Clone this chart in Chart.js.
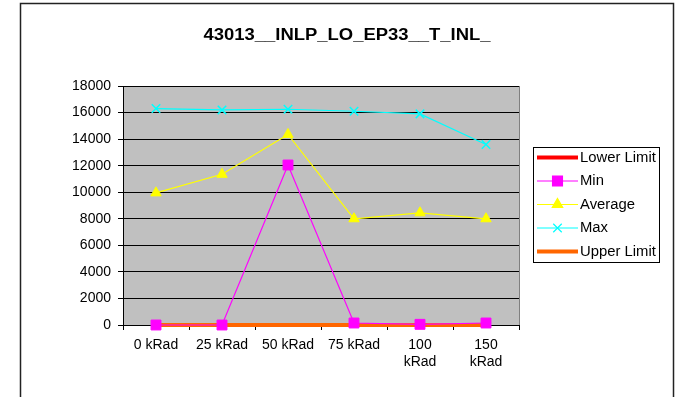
<!DOCTYPE html>
<html>
<head>
<meta charset="utf-8">
<script src="https://cdn.jsdelivr.net/npm/chart.js@4/dist/chart.umd.min.js"></script>
<style>
  html, body { margin: 0; padding: 0; background: #fff; }
  #wrap { width: 683px; height: 397px; }
</style>
</head>
<body>
<div id="wrap"><canvas id="chart" width="683" height="397"></canvas></div>
<script>
const chartTitle = "43013__INLP_LO_EP33__T_INL_";
const doses = ["0 kRad", "25 kRad", "50 kRad", "75 kRad", ["100", "kRad"], ["150", "kRad"]];
const lowerLimit = [0, 0, 0, 0, 0, 0];
const minVals = [0, 0, 12050, 150, 50, 150];
const avgVals = [9950, 11350, 14350, 8000, 8450, 8000];
const maxVals = [16300, 16200, 16250, 16100, 15900, 13600];
const upperLimit = [0, 0, 0, 0, 0, 0];
const yTicks = [0, 2000, 4000, 6000, 8000, 10000, 12000, 14000, 16000, 18000];

const FONT = "'Liberation Sans', Arial, sans-serif";

// gray plot background, frame, title and the line+marker legend
const excelLook = {
  id: "excelLook",
  beforeDraw(chart) {
    const { ctx, chartArea: a } = chart;
    ctx.save();
    ctx.fillStyle = "#c0c0c0";
    ctx.fillRect(a.left, a.top, a.right - a.left, a.bottom - a.top);
    ctx.restore();
  },
  beforeDatasetsDraw(chart) {
    const { ctx, chartArea: a } = chart;
    ctx.save();
    ctx.strokeStyle = "#808080";
    ctx.lineWidth = 1;
    ctx.beginPath();
    ctx.moveTo(a.right + 0.5, a.top);
    ctx.lineTo(a.right + 0.5, a.bottom);
    ctx.stroke();
    ctx.restore();
  },
  afterDraw(chart) {
    const ctx = chart.ctx;
    ctx.save();
    // outer frame
    ctx.strokeStyle = "#222";
    ctx.lineWidth = 1.5;
    ctx.strokeRect(20.5, 3.5, 653, 400);

    // title, slightly widened
    ctx.font = "bold 16px " + FONT;
    ctx.fillStyle = "#000";
    ctx.textBaseline = "middle";
    const w = ctx.measureText(chartTitle).width;
    const sx = 287 / w;
    ctx.save();
    ctx.translate(347 - 287 / 2, 36);
    ctx.scale(sx, 1);
    ctx.textAlign = "left";
    ctx.fillText(chartTitle, 0, 0);
    ctx.restore();

    // legend
    const lx = 533, ly = 147, lw = 126, lh = 115;
    ctx.fillStyle = "#fff";
    ctx.fillRect(lx, ly, lw, lh);
    ctx.strokeStyle = "#000";
    ctx.lineWidth = 1;
    ctx.strokeRect(lx + 0.5, ly + 0.5, lw, lh);
    ctx.font = "14px " + FONT;
    ctx.textAlign = "left";
    chart.data.datasets.forEach((ds, k) => {
      const y = 157.5 + k * 23.5;
      ctx.strokeStyle = ds.borderColor;
      ctx.lineWidth = ds.borderWidth;
      ctx.beginPath();
      ctx.moveTo(537, y);
      ctx.lineTo(578, y);
      ctx.stroke();
      if (ds.pointRadius > 0) {
        ctx.fillStyle = ds.pointBackgroundColor;
        ctx.strokeStyle = ds.pointBorderColor;
        Chart.helpers.drawPoint(ctx, {
          pointStyle: ds.pointStyle,
          radius: ds.pointRadius,
          rotation: 0,
          borderWidth: ds.pointBorderWidth
        }, 557.5, y);
      }
      ctx.fillStyle = "#000";
      ctx.save();
      ctx.translate(580, y);
      ctx.scale(1.06, 1);
      ctx.fillText(ds.label, 0, 0.5);
      ctx.restore();
    });
    ctx.restore();
  }
};

function series(label, data, color, width, style, radius, order) {
  return {
    label: label,
    data: data,
    borderColor: color,
    borderWidth: width,
    backgroundColor: color,
    pointStyle: style,
    pointRadius: radius,
    pointHoverRadius: radius,
    pointBackgroundColor: color,
    pointBorderColor: color,
    pointBorderWidth: style === "crossRot" ? 1.5 : 1,
    tension: 0,
    fill: false,
    clip: false,
    order: order
  };
}

new Chart(document.getElementById("chart"), {
  type: "line",
  data: {
    labels: doses,
    datasets: [
      series("Lower Limit", lowerLimit, "#ff0000", 4, false, 0, 4),
      series("Min", minVals, "#ff00ff", 1.2, "rect", 7, 0),
      series("Average", avgVals, "#ffff00", 1.2, "triangle", 6, 1),
      series("Max", maxVals, "#00ffff", 1.2, "crossRot", 6, 2),
      series("Upper Limit", upperLimit, "#ff6600", 4, false, 0, 3)
    ]
  },
  options: {
    responsive: false,
    animation: false,
    events: [],
    layout: { padding: { left: 20, right: 164, top: 86, bottom: 0 } },
    plugins: {
      legend: { display: false },
      title: { display: false },
      tooltip: { enabled: false }
    },
    scales: {
      x: {
        offset: true,
        border: { color: "#000", width: 1 },
        grid: { offset: true, drawOnChartArea: false, color: "#000", tickLength: 5 },
        ticks: { color: "#000", font: { family: FONT, size: 14 }, padding: 7, maxRotation: 0, autoSkip: false },
        afterFit(scale) { scale.height = 72; }
      },
      y: {
        min: 0,
        max: 18000,
        border: { color: "#000", width: 1 },
        grid: { color: "#000", lineWidth: 1, tickLength: 5 },
        ticks: {
          color: "#000",
          font: { family: FONT, size: 14 },
          padding: 7,
          stepSize: 2000,
          callback: v => String(v)
        },
        afterBuildTicks(scale) { scale.ticks = yTicks.map(v => ({ value: v })); },
        afterFit(scale) { scale.width = 103; }
      }
    }
  },
  plugins: [excelLook]
});
</script>
</body>
</html>
